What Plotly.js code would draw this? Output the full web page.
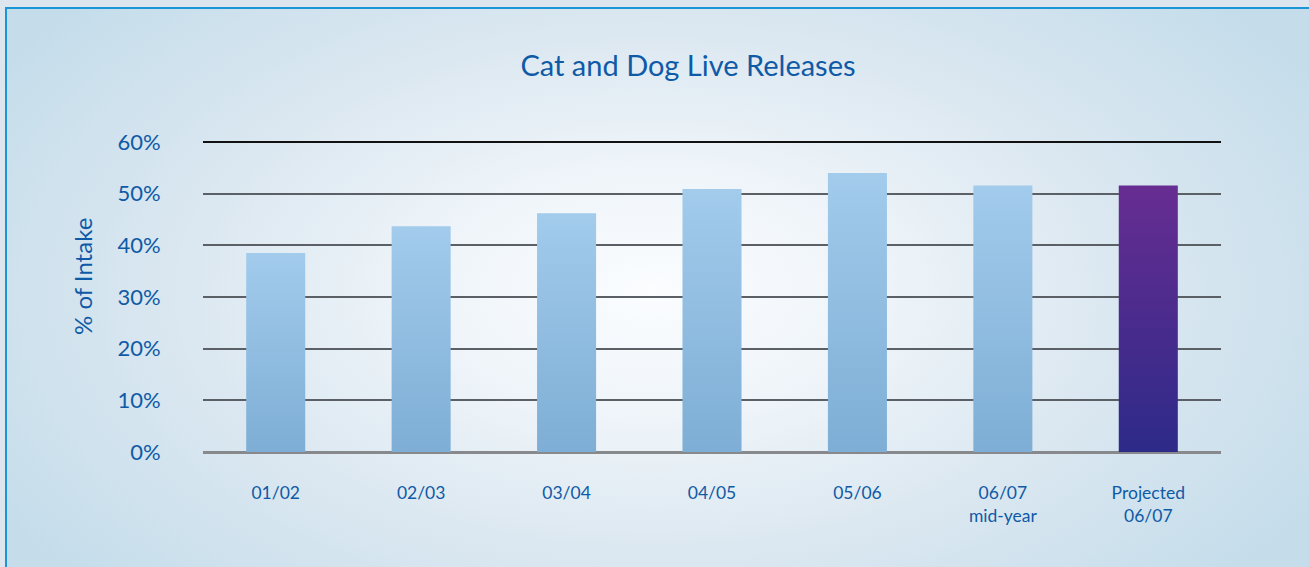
<!DOCTYPE html>
<html>
<head>
<meta charset="utf-8">
<script src="https://cdn.plot.ly/plotly-3.0.1.min.js"></script>
<style>
  html, body { margin: 0; padding: 0; width: 1309px; height: 567px; overflow: hidden; background: #dde6ef; }
  #frame {
    position: absolute; left: 5px; top: 7px; width: 1302px; height: 570px;
    border-left: 2px solid #1a96d6; border-top: 2px solid #1a96d6; border-right: 2px solid #1a96d6;
    background: radial-gradient(ellipse 760px 430px at 645px 283px, #fbfdff 0%, #eef4f9 30%, #dce8f1 60%, #c5ddeb 100%);
  }
  #chart { position: absolute; left: 0; top: 0; width: 1309px; height: 567px; }
</style>
</head>
<body>
<div id="frame"></div>
<div id="chart"></div>
<script>
const categories = ['01/02', '02/03', '03/04', '04/05', '05/06', '06/07<br>mid-year', 'Projected<br>06/07'];
const releasePct = [38.5, 43.7, 46.2, 50.9, 54.0, 51.6, 51.6];
const yTickVals = [0, 10, 20, 30, 40, 50, 60];
const yTickText = ['0%', '10%', '20%', '30%', '40%', '50%', '60%'];
const barColors = ['#90bde2', '#90bde2', '#90bde2', '#90bde2', '#90bde2', '#90bde2', '#4a2c8e'];

const textColor = '#0f5aa6';
const font = 'Lato, "Open Sans", sans-serif';

const trace = {
  type: 'bar',
  x: categories,
  y: releasePct,
  marker: { color: barColors, line: { width: 0 } },
  hoverinfo: 'skip'
};

const layout = {
  width: 1309, height: 567,
  margin: { l: 203, r: 88, t: 141, b: 115 },
  paper_bgcolor: 'rgba(0,0,0,0)',
  plot_bgcolor: 'rgba(0,0,0,0)',
  showlegend: false,
  bargap: 0.594,
  title: {
    text: 'Cat and Dog Live Releases',
    font: { family: font, size: 29, color: textColor },
    xref: 'container', x: 688 / 1309, xanchor: 'center',
    yref: 'container', y: 1 - 66 / 567, yanchor: 'middle'
  },
  xaxis: {
    type: 'category',
    tickfont: { family: font, size: 17.5, color: textColor },
    ticks: 'outside', ticklen: 25, tickcolor: 'rgba(0,0,0,0)',
    showgrid: false, showline: false, zeroline: false, fixedrange: true
  },
  yaxis: {
    range: [0, 60.2], autorange: false,
    tickvals: yTickVals, ticktext: yTickText,
    tickfont: { family: font, size: 22, color: textColor },
    ticks: 'outside', ticklen: 37, tickcolor: 'rgba(0,0,0,0)',
    showgrid: true, gridcolor: '#5a6065', gridwidth: 2,
    zeroline: true, zerolinecolor: '#87898c', zerolinewidth: 3,
    showline: false, fixedrange: true
  },
  annotations: [{
    text: '% of Intake',
    xref: 'paper', yref: 'paper',
    x: (82 - 203) / (1309 - 203 - 88), y: (452 - 277) / (452 - 141),
    xanchor: 'center', yanchor: 'middle',
    textangle: -90, showarrow: false,
    font: { family: font, size: 24, color: textColor }
  }]
};

Plotly.newPlot('chart', [trace], layout, { displayModeBar: false, staticPlot: true }).then(function (gd) {
  const svg = gd.querySelector('svg.main-svg');
  let defs = svg.querySelector('defs');
  const ns = 'http://www.w3.org/2000/svg';
  if (!defs) { defs = document.createElementNS(ns, 'defs'); svg.insertBefore(defs, svg.firstChild); }
  function addGrad(id, top, bottom) {
    const g = document.createElementNS(ns, 'linearGradient');
    g.setAttribute('id', id);
    g.setAttribute('x1', '0'); g.setAttribute('y1', '0');
    g.setAttribute('x2', '0'); g.setAttribute('y2', '1');
    [[0, top], [1, bottom]].forEach(function (s) {
      const st = document.createElementNS(ns, 'stop');
      st.setAttribute('offset', s[0]);
      st.setAttribute('stop-color', s[1]);
      g.appendChild(st);
    });
    defs.appendChild(g);
  }
  addGrad('gradBlue', '#a2cbec', '#7eaed5');
  addGrad('gradPurple', '#672d92', '#2d2a88');
  const paths = gd.querySelectorAll('.barlayer .point path');
  paths.forEach(function (p, i) {
    p.style.fill = (i === paths.length - 1) ? 'url(#gradPurple)' : 'url(#gradBlue)';
  });
  // darker top gridline, as in the reference
  const grids = gd.querySelectorAll('.ygrid');
  let topLine = null, minY = Infinity;
  grids.forEach(function (g) {
    const t = g.getAttribute('transform') || '';
    const m = /translate\(\s*[-\d.]+\s*,\s*([-\d.]+)\s*\)/.exec(t);
    if (m && parseFloat(m[1]) < minY) { minY = parseFloat(m[1]); topLine = g; }
  });
  if (topLine) topLine.style.stroke = '#111111';
});
</script>
</body>
</html>
